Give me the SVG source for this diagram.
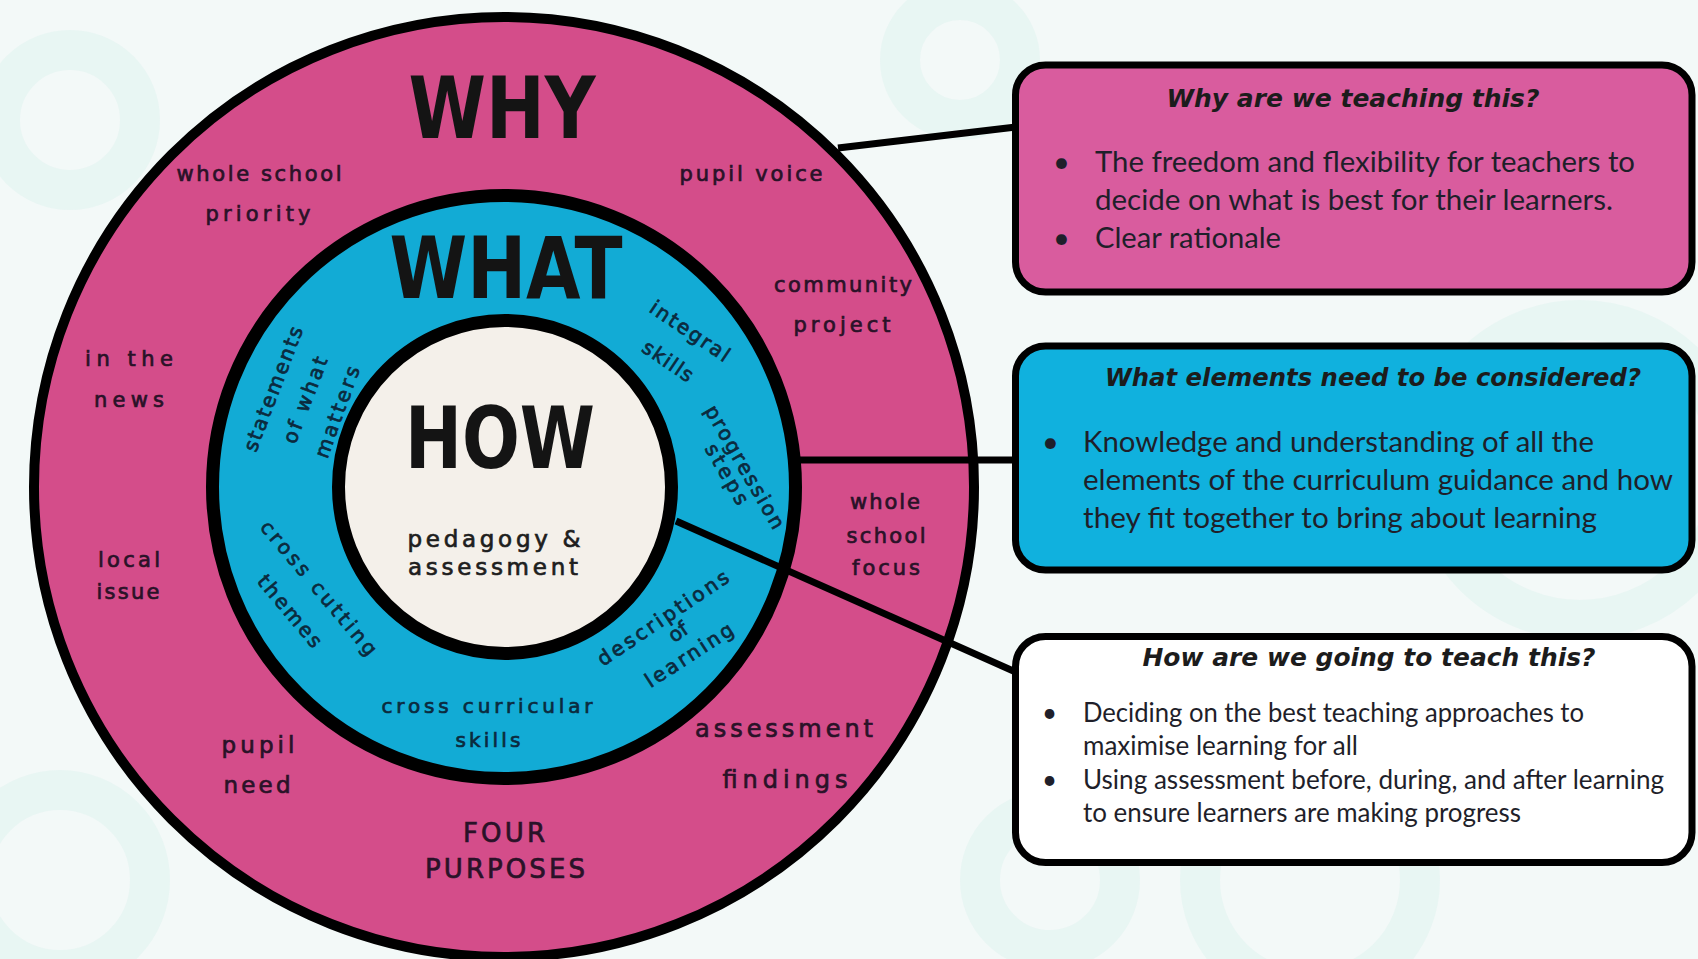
<svg xmlns="http://www.w3.org/2000/svg" width="1698" height="959" viewBox="0 0 1698 959">
<defs>
<style>
.lbl{font-family:"DejaVu Sans",sans-serif;font-size:21px;fill:#2a1228;stroke:#2a1228;stroke-width:0.7;text-anchor:middle}
.blu{fill:#0b2a3e;stroke:#0b2a3e;font-size:20px}
.big{font-family:"DejaVu Sans Condensed","DejaVu Sans",sans-serif;font-weight:bold;font-size:86px;fill:#141414;text-anchor:middle}
.hd{font-family:"DejaVu Sans",sans-serif;font-style:italic;font-weight:bold;font-size:25px;fill:#1c1c1c;text-anchor:middle}
.body{font-family:Lato,"Open Sans",sans-serif;font-size:29px;fill:#1f1f2a}
.small{font-size:26px}
.box{stroke:#000;stroke-width:7}
.conn{stroke:#000;stroke-width:7;fill:none}
.deco{fill:none;stroke:#dcf1ee;stroke-width:40;opacity:0.45}
</style>
</defs>
<rect width="1698" height="959" fill="#f3f9f8"/>
<g id="background">
<circle class="deco" cx="70" cy="120" r="70"/>
<circle class="deco" cx="1580" cy="470" r="150"/>
<circle class="deco" cx="1310" cy="880" r="110"/>
<circle class="deco" cx="960" cy="60" r="60"/>
<circle class="deco" cx="60" cy="880" r="90"/>
<circle class="deco" cx="1050" cy="880" r="70"/>
</g>
<g id="why-ring">
<circle cx="504" cy="487" r="470" fill="#d44d8a" stroke="#000" stroke-width="10"/>
</g>
<g id="what-ring">
<circle cx="504" cy="487" r="291.5" fill="#12abd5" stroke="#000" stroke-width="13"/>
</g>
<g id="how-circle">
<circle cx="505" cy="487" r="166.5" fill="#f4f0ea" stroke="#000" stroke-width="13"/>
</g>
<g id="connectors">
<line class="conn" x1="838" y1="148" x2="1016" y2="127"/>
<line class="conn" x1="798" y1="460" x2="1016" y2="460"/>
<line class="conn" x1="676" y1="521" x2="1018" y2="673"/>
</g>
<g id="why-labels">
<text class="big" x="502" y="138" textLength="187" lengthAdjust="spacingAndGlyphs">WHY</text>
<text class="lbl" x="259" y="181" textLength="165">whole school</text>
<text class="lbl" x="258" y="221" textLength="105">priority</text>
<text class="lbl" x="751" y="181" textLength="143">pupil voice</text>
<text class="lbl" x="843" y="292" textLength="138">community</text>
<text class="lbl" x="842" y="332" textLength="97">project</text>
<text class="lbl" x="129" y="366" textLength="88">in the</text>
<text class="lbl" x="129" y="407" textLength="70">news</text>
<text class="lbl" x="885" y="509" textLength="70">whole</text>
<text class="lbl" x="886" y="543" textLength="79">school</text>
<text class="lbl" x="886" y="575" textLength="68">focus</text>
<text class="lbl" x="129" y="567" textLength="62">local</text>
<text class="lbl" x="128" y="599" textLength="63">issue</text>
<text class="lbl" x="784" y="737" textLength="178" style="font-size:24px">assessment</text>
<text class="lbl" x="785" y="788" textLength="125" style="font-size:24px">findings</text>
<text class="lbl" x="258" y="753" textLength="73" style="font-size:23px">pupil</text>
<text class="lbl" x="257" y="793" textLength="67" style="font-size:23px">need</text>
<text class="lbl" x="504" y="842" textLength="82" style="font-size:26px">FOUR</text>
<text class="lbl" x="505" y="878" textLength="160" style="font-size:26px">PURPOSES</text>
</g>
<g id="what-labels">
<text class="big" x="506" y="298" textLength="233" lengthAdjust="spacingAndGlyphs">WHAT</text>
<text class="lbl blu" x="487" y="713" textLength="211">cross curricular</text>
<text class="lbl blu" x="488" y="747" textLength="65">skills</text>
<text class="lbl blu" transform="translate(273,389) rotate(-69)" y="7" textLength="132">statements</text>
<text class="lbl blu" transform="translate(305,400) rotate(-69)" y="7" textLength="91">of what</text>
<text class="lbl blu" transform="translate(337,412) rotate(-70)" y="7" textLength="96">matters</text>
<text class="lbl blu" transform="translate(690,331) rotate(34)" y="7" textLength="92">integral</text>
<text class="lbl blu" transform="translate(668,361) rotate(34)" y="7" textLength="57">skills</text>
<text class="lbl blu" transform="translate(745,467) rotate(60)" y="7" textLength="139">progression</text>
<text class="lbl blu" transform="translate(727,474) rotate(60)" y="7" textLength="67">steps</text>
<text class="lbl blu" transform="translate(663,618) rotate(-34)" y="7" textLength="154">descriptions</text>
<text class="lbl blu" transform="translate(678,632) rotate(-34)" y="7">of</text>
<text class="lbl blu" transform="translate(689,655) rotate(-33)" y="7" textLength="101">learning</text>
<text class="lbl blu" transform="translate(319,588) rotate(50)" y="7" textLength="169">cross cutting</text>
<text class="lbl blu" transform="translate(290,611) rotate(50)" y="7" textLength="88">themes</text>
</g>
<g id="how-labels">
<text class="big" x="500" y="468" textLength="190" lengthAdjust="spacingAndGlyphs">HOW</text>
<text class="lbl" x="494" y="547" textLength="173" style="font-size:23px;fill:#1e1e1e;stroke:#1e1e1e">pedagogy &amp;</text>
<text class="lbl" x="493" y="575" textLength="170" style="font-size:23px;fill:#1e1e1e;stroke:#1e1e1e">assessment</text>
</g>
<g id="box-why">
<rect class="box" x="1015.5" y="65" width="676.5" height="227" rx="30" fill="#d95c9e"/>
<text class="hd" x="1353" y="107" textLength="373" lengthAdjust="spacingAndGlyphs">Why are we teaching this?</text>
<text class="body" x="1053" y="172">•</text>
<text class="body" x="1095" y="172" textLength="540" lengthAdjust="spacingAndGlyphs">The freedom and flexibility for teachers to</text>
<text class="body" x="1095" y="210" textLength="518" lengthAdjust="spacingAndGlyphs">decide on what is best for their learners.</text>
<text class="body" x="1053" y="248">•</text>
<text class="body" x="1095" y="248" textLength="186" lengthAdjust="spacingAndGlyphs">Clear rationale</text>
</g>
<g id="box-what">
<rect class="box" x="1015.5" y="346" width="676.5" height="224" rx="30" fill="#10b1de"/>
<text class="hd" x="1373" y="386" textLength="536" lengthAdjust="spacingAndGlyphs">What elements need to be considered?</text>
<text class="body" x="1042" y="452">•</text>
<text class="body" x="1083" y="452" textLength="511" lengthAdjust="spacingAndGlyphs">Knowledge and understanding of all the</text>
<text class="body" x="1083" y="490" textLength="590" lengthAdjust="spacingAndGlyphs">elements of the curriculum guidance and how</text>
<text class="body" x="1083" y="528" textLength="514" lengthAdjust="spacingAndGlyphs">they fit together to bring about learning</text>
</g>
<g id="box-how">
<rect class="box" x="1015.5" y="636.5" width="676.5" height="226" rx="30" fill="#ffffff"/>
<text class="hd" x="1369" y="666" textLength="453" lengthAdjust="spacingAndGlyphs">How are we going to teach this?</text>
<text class="body small" x="1042" y="722">•</text>
<text class="body small" x="1083" y="722" textLength="501" lengthAdjust="spacingAndGlyphs">Deciding on the best teaching approaches to</text>
<text class="body small" x="1083" y="755" textLength="275" lengthAdjust="spacingAndGlyphs">maximise learning for all</text>
<text class="body small" x="1042" y="789">•</text>
<text class="body small" x="1083" y="789" textLength="581" lengthAdjust="spacingAndGlyphs">Using assessment before, during, and after learning</text>
<text class="body small" x="1083" y="822" textLength="438" lengthAdjust="spacingAndGlyphs">to ensure learners are making progress</text>
</g>
</svg>
